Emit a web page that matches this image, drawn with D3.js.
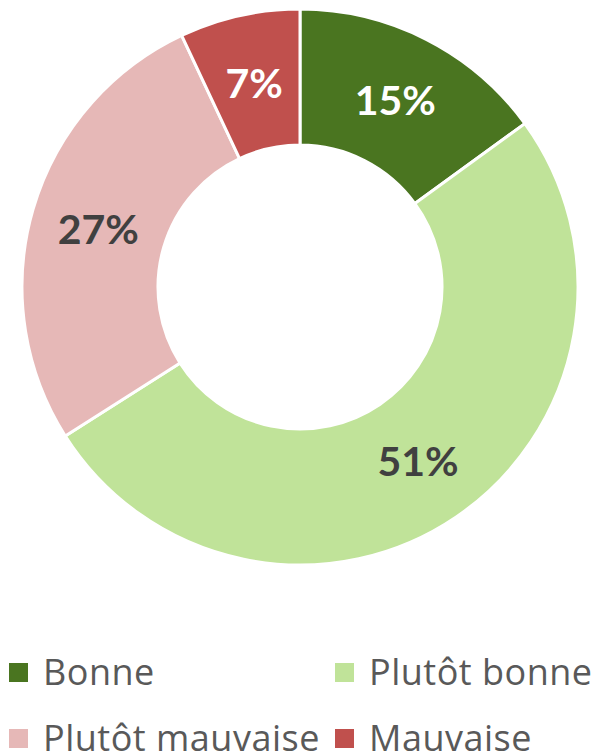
<!DOCTYPE html>
<html>
<head>
<meta charset="utf-8">
<script src="https://cdn.jsdelivr.net/npm/d3@7"></script>
<style>
  body { margin: 0; background: #fff; }
</style>
</head>
<body>
<div id="chart"></div>
<script>
// Chart data
var categories = ['Bonne', 'Plutôt bonne', 'Plutôt mauvaise', 'Mauvaise'];
var values = [15, 51, 27, 7];
var colors = ['#4A7520', '#C0E399', '#E6B8B7', '#C0504D'];
var labelColors = ['#ffffff', '#404040', '#404040', '#ffffff'];

var width = 594;
var height = 754;
var cx = 300, cy = 287;
var outerR = 278, innerR = 142;

var svg = d3.select('#chart')
  .append('svg')
  .attr('width', width)
  .attr('height', height);

var pie = d3.pie().sort(null).value(function(d) { return d; });
var arc = d3.arc().innerRadius(innerR).outerRadius(outerR);
var labelArc = d3.arc().innerRadius((innerR + outerR) / 2).outerRadius((innerR + outerR) / 2);

var g = svg.append('g').attr('transform', 'translate(' + cx + ',' + cy + ')');

var arcs = pie(values);

g.selectAll('path')
  .data(arcs)
  .enter().append('path')
  .attr('d', arc)
  .style('fill', function(d, i) { return colors[i]; })
  .style('stroke', '#fff')
  .style('stroke-width', 3);

g.selectAll('text')
  .data(arcs)
  .enter().append('text')
  .attr('transform', function(d) { return 'translate(' + labelArc.centroid(d) + ')'; })
  .attr('dy', '0.38em')
  .style('text-anchor', 'middle')
  .style('font-family', 'Lato, sans-serif')
  .style('font-weight', 'bold')
  .style('font-size', '41px')
  .style('fill', function(d, i) { return labelColors[i]; })
  .text(function(d) { return d.data + '%'; });

// Legend, two columns (y is the text baseline)
var legend = svg.selectAll('.legend')
  .data(categories)
  .enter().append('g')
  .attr('class', 'legend')
  .attr('transform', function(d, i) {
    return 'translate(' + (i % 2 === 0 ? 9 : 335) + ',' + (685 + Math.floor(i / 2) * 66) + ')';
  });

legend.append('rect')
  .attr('x', 0)
  .attr('y', -22)
  .attr('width', 19)
  .attr('height', 19)
  .style('fill', function(d, i) { return colors[i]; });

legend.append('text')
  .attr('x', 34)
  .attr('y', 0)
  .style('font-family', '"Open Sans", sans-serif')
  .style('font-size', '36px')
  .style('letter-spacing', '0.5px')
  .style('fill', '#595959')
  .text(function(d) { return d; });
</script>
</body>
</html>
